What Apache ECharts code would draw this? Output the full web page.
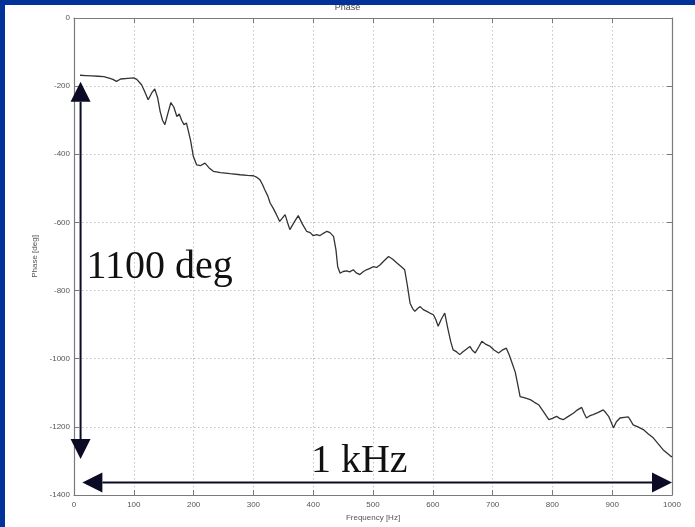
<!DOCTYPE html>
<html>
<head>
<meta charset="utf-8">
<script src="https://cdn.jsdelivr.net/npm/echarts@6/dist/echarts.min.js"></script>
<style>html,body{margin:0;padding:0;background:#fff;}#c{width:695px;height:527px;}</style>
</head>
<body>
<div id="c"></div>
<script>
// ---- data ----
const FREQ = [10,20,30,40,50,60,65,71,78,90,100,105,110,113,118,124,130,135,140,144,148,152,157,162,167,172,176,180,184,188,191,195,199.5,205,212,219,226,233,245,261,278,290,300,306,311,315,319,324,328,333,338,344,348,353,357,361,368,375,382,389,395,400,406,411,417,423,428,434,438,441,445,450,456,461,467,472,478,484,489,495,500,506,512,519,526,533,540,546,553,557,562,566,570,575,579,584,590,595,601,605,609,614,620,625,630,634,640,645,650,656,662,666,671,677,682,689,696,703,710,716,723,728,733,738,742,746,754,763,770,777,785,794,800,807,812,818,826,835,842,849,853,857,862,868,876,885,889,894,898,902,907,913,920,927,931,935,943,952,960,969,977,985,991,997,1000];
const PHASE = [-168,-169,-170,-171,-172,-177,-180,-186,-179,-177,-176,-180,-190,-196,-215,-240,-220,-208,-235,-274,-300,-313,-280,-248,-262,-289,-282,-300,-313,-308,-313,-360,-406,-431,-433,-426,-440,-450,-454,-457,-460,-462,-463,-468,-475,-488,-504,-522,-543,-558,-575,-597,-588,-577,-600,-621,-600,-580,-605,-626,-630,-639,-636,-639,-632,-626,-630,-641,-680,-730,-749,-744,-742,-745,-739,-748,-753,-744,-739,-735,-730,-732,-724,-712,-700,-708,-719,-728,-739,-780,-837,-852,-861,-852,-847,-856,-861,-866,-871,-885,-905,-885,-866,-910,-950,-974,-980,-988,-980,-972,-964,-975,-983,-965,-949,-958,-964,-975,-983,-975,-969,-990,-1015,-1040,-1075,-1111,-1115,-1120,-1128,-1135,-1155,-1179,-1175,-1169,-1175,-1179,-1170,-1160,-1150,-1143,-1160,-1174,-1168,-1164,-1158,-1150,-1158,-1169,-1185,-1203,-1185,-1174,-1172,-1171,-1182,-1194,-1200,-1208,-1220,-1233,-1250,-1267,-1276,-1285,-1288];
const X_TICKS = [0,100,200,300,400,500,600,700,800,900,1000];
const Y_TICKS = [-1400,-1200,-1000,-800,-600,-400,-200,0];
const TITLE = 'Phase';
const X_NAME = 'Frequency [Hz]';
const Y_NAME = 'Phase [deg]';
// annotation arrows (data coordinates)
const V_ARROW = {x: 11, from: -187, to: -1294, label: '1100 deg', labelX: 21, labelY: -733};
const H_ARROW = {y: -1363, from: 14, to: 1000, label: '1 kHz', labelX: 477, labelY: -1301};

const chart = echarts.init(document.getElementById('c'), null, {renderer: 'canvas'});
const axisCol = '#7a7a7a';
const fmt = v => String(v);
const lblStyle = {fontSize: 8, color: '#555', fontFamily: 'Liberation Sans, Arial, sans-serif', formatter: fmt};
const baseX = {
  type: 'value', min: X_TICKS[0], max: X_TICKS[X_TICKS.length-1], interval: 100
};
const baseY = {
  type: 'value', min: Y_TICKS[0], max: Y_TICKS[Y_TICKS.length-1], interval: 200
};
chart.setOption({
  animation: false,
  backgroundColor: '#ffffff',
  title: {text: TITLE, left: 'center', top: -2,
    textStyle: {fontSize: 9, fontWeight: 'normal', color: '#444', fontFamily: 'Liberation Sans, Arial, sans-serif'}},
  grid: {left: 74, right: 23, top: 18, bottom: 32, show: false},
  xAxis: [
    Object.assign({}, baseX, {
      position: 'bottom',
      name: X_NAME, nameLocation: 'middle', nameGap: 17,
      nameTextStyle: {fontSize: 8, color: '#555', fontFamily: 'Liberation Sans, Arial, sans-serif'},
      axisLine: {show: true, onZero: false, lineStyle: {color: axisCol, width: 1.2}},
      axisTick: {show: true, inside: true, length: 5, lineStyle: {color: axisCol}},
      axisLabel: Object.assign({margin: 6}, lblStyle),
      splitLine: {show: true, lineStyle: {color: '#c4c4c4', type: [1.5, 2.5], width: 1}}
    }),
    Object.assign({}, baseX, {
      position: 'top',
      axisLine: {show: true, onZero: false, lineStyle: {color: axisCol, width: 1.2}},
      axisTick: {show: true, inside: true, length: 5, lineStyle: {color: axisCol}},
      axisLabel: {show: false},
      splitLine: {show: false}
    })
  ],
  yAxis: [
    Object.assign({}, baseY, {
      position: 'left',
      name: Y_NAME, nameLocation: 'middle', nameGap: 31,
      nameTextStyle: {fontSize: 8, color: '#555', fontFamily: 'Liberation Sans, Arial, sans-serif'},
      axisLine: {show: true, onZero: false, lineStyle: {color: axisCol, width: 1.2}},
      axisTick: {show: true, inside: true, length: 5, lineStyle: {color: axisCol}},
      axisLabel: Object.assign({margin: 4}, lblStyle),
      splitLine: {show: true, lineStyle: {color: '#c4c4c4', type: [1.5, 2.5], width: 1}}
    }),
    Object.assign({}, baseY, {
      position: 'right',
      axisLine: {show: true, onZero: false, lineStyle: {color: axisCol, width: 1.2}},
      axisTick: {show: true, inside: true, length: 5, lineStyle: {color: axisCol}},
      axisLabel: {show: false},
      splitLine: {show: false}
    })
  ],
  series: [{
    type: 'line',
    xAxisIndex: 0, yAxisIndex: 0,
    data: FREQ.map((f, i) => [f, PHASE[i]]),
    showSymbol: false,
    lineStyle: {color: '#333', width: 1.3},
    smooth: false
  }]
});

function px(x, y) { return chart.convertToPixel({xAxisIndex: 0, yAxisIndex: 0}, [x, y]); }
const ink = '#0b0b26';
const head = 20, halfW = 10;
const vt = px(V_ARROW.x, V_ARROW.from), vb = px(V_ARROW.x, V_ARROW.to);
const hl = px(H_ARROW.from, H_ARROW.y), hr = px(H_ARROW.to, H_ARROW.y);
const vLbl = px(V_ARROW.labelX, V_ARROW.labelY), hLbl = px(H_ARROW.labelX, H_ARROW.labelY);
const serif = '40px "Liberation Serif", "DejaVu Serif", serif';
chart.setOption({
  graphic: [
    {type: 'line', z: 50, shape: {x1: vt[0], y1: vt[1] + head, x2: vb[0], y2: vb[1] - head}, style: {stroke: ink, lineWidth: 2}},
    {type: 'polygon', z: 50, shape: {points: [[vt[0], vt[1]], [vt[0]-halfW, vt[1]+head], [vt[0]+halfW, vt[1]+head]]}, style: {fill: ink}},
    {type: 'polygon', z: 50, shape: {points: [[vb[0], vb[1]], [vb[0]-halfW, vb[1]-head], [vb[0]+halfW, vb[1]-head]]}, style: {fill: ink}},
    {type: 'line', z: 50, shape: {x1: hl[0] + head, y1: hl[1], x2: hr[0] - head, y2: hr[1]}, style: {stroke: ink, lineWidth: 2}},
    {type: 'polygon', z: 50, shape: {points: [[hl[0], hl[1]], [hl[0]+head, hl[1]-halfW], [hl[0]+head, hl[1]+halfW]]}, style: {fill: ink}},
    {type: 'polygon', z: 50, shape: {points: [[hr[0], hr[1]], [hr[0]-head, hr[1]-halfW], [hr[0]-head, hr[1]+halfW]]}, style: {fill: ink}},
    {type: 'text', z: 50, x: vLbl[0], y: vLbl[1], style: {text: V_ARROW.label, font: serif, fill: '#111', align: 'left', verticalAlign: 'middle'}},
    {type: 'text', z: 50, x: hLbl[0], y: hLbl[1], style: {text: H_ARROW.label, font: serif, fill: '#111', align: 'center', verticalAlign: 'middle'}},
    // blue slide frame
    {type: 'rect', z: 100, shape: {x: 0, y: 0, width: 695, height: 5}, style: {fill: '#003399'}},
    {type: 'rect', z: 100, shape: {x: 0, y: 0, width: 5, height: 527}, style: {fill: '#003399'}}
  ]
});
</script>
</body>
</html>
